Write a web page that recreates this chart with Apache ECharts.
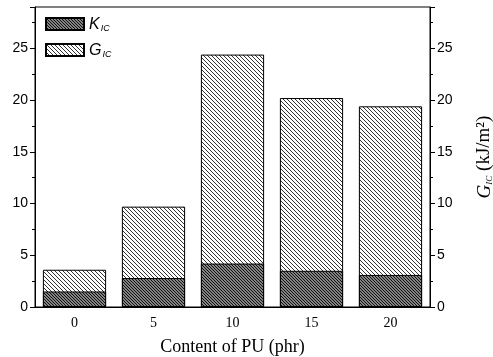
<!DOCTYPE html>
<html>
<head>
<meta charset="utf-8">
<script src="https://cdn.jsdelivr.net/npm/echarts@6/dist/echarts.min.js"></script>
<style>
  html, body { margin: 0; padding: 0; background: #fff; }
  #chart { width: 493px; height: 357px; }
</style>
</head>
<body>
<div id="chart"></div>
<script>
// PU content (phr) on the x axis
const categories = ['0', '5', '10', '15', '20'];
// Fracture toughness K_IC and fracture energy G_IC (kJ/m^2)
const kicValues = [1.5, 2.8, 4.2, 3.5, 3.1];
const gicValues = [3.6, 9.7, 24.4, 20.2, 19.4];
const yTicks = [0, 5, 10, 15, 20, 25];

// Diagonal hatch tiles ("\" direction)
function hatch(size, width, color) {
  const c = document.createElement('canvas');
  c.width = size; c.height = size;
  const g = c.getContext('2d');
  g.fillStyle = '#fff';
  g.fillRect(0, 0, size, size);
  g.strokeStyle = color;
  g.lineWidth = width;
  for (let k = -1; k <= 1; k++) {
    g.beginPath();
    g.moveTo(k * size - 1, -1);
    g.lineTo(k * size + size + 1, size + 1);
    g.stroke();
  }
  return { image: c, repeat: 'repeat' };
}
const kPattern = hatch(3, 1.5, '#111');
const gPattern = hatch(4, 1.0, '#333');

const chart = echarts.init(document.getElementById('chart'));
const sansAxis = { fontFamily: 'Liberation Sans', fontSize: 14, color: '#000' };

chart.setOption({
  animation: false,
  backgroundColor: '#fff',
  grid: {
    left: 35, right: 63, top: 7, bottom: 50,
    outerBoundsMode: 'none',
    containLabel: false,
    show: true, borderColor: '#000', borderWidth: 1
  },
  legend: {
    orient: 'vertical',
    left: 45, top: 16, padding: 0,
    itemWidth: 38, itemHeight: 12, itemGap: 9,
    icon: 'rect',
    data: ['KIC', 'GIC'],
    formatter: function (name) {
      return '{m|' + name.charAt(0) + '}{s|' + name.slice(1) + '}';
    },
    textStyle: {
      rich: {
        m: { fontFamily: 'Liberation Sans', fontStyle: 'italic', fontSize: 16, color: '#000', lineHeight: 18, verticalAlign: 'bottom' },
        s: { fontFamily: 'Liberation Sans', fontStyle: 'italic', fontSize: 9, color: '#000', padding: [8, 0, 0, 1], lineHeight: 18, verticalAlign: 'bottom' }
      }
    }
  },
  xAxis: {
    type: 'category',
    data: categories,
    axisLine: { lineStyle: { color: '#000', width: 1 } },
    axisTick: { show: false },
    axisLabel: { fontFamily: 'Liberation Serif', fontSize: 14, color: '#000', margin: 9 },
    name: 'Content of PU (phr)',
    nameLocation: 'middle',
    nameGap: 31,
    nameTextStyle: { fontFamily: 'Liberation Serif', fontSize: 18, color: '#000' }
  },
  yAxis: [
    {
      type: 'value', min: 0, max: 29, interval: 5,
      axisLine: { show: true, lineStyle: { color: '#000' } },
      axisTick: { show: true, inside: false, length: 5, lineStyle: { color: '#000' } },
      minorTick: { show: true, splitNumber: 2, length: 3, lineStyle: { color: '#000' } },
      splitLine: { show: false },
      axisLabel: Object.assign({ margin: 7, formatter: v => (yTicks.includes(v) ? String(v) : '') }, sansAxis)
    },
    {
      type: 'value', min: 0, max: 29, interval: 5, position: 'right',
      axisLine: { show: true, lineStyle: { color: '#000' } },
      axisTick: { show: true, inside: false, length: 5, lineStyle: { color: '#000' } },
      minorTick: { show: true, splitNumber: 2, length: 3, lineStyle: { color: '#000' } },
      splitLine: { show: false },
      axisLabel: Object.assign({ margin: 7, formatter: v => (yTicks.includes(v) ? String(v) : '') }, sansAxis),
      name: '{g|G}{s|IC}{t| (kJ/m²)}',
      nameLocation: 'middle',
      nameRotate: 90,
      nameGap: 42,
      nameTextStyle: {
        rich: {
          g: { fontFamily: 'Liberation Serif', fontStyle: 'italic', fontSize: 19, color: '#000', lineHeight: 22, verticalAlign: 'bottom' },
          s: { fontFamily: 'Liberation Serif', fontStyle: 'italic', fontSize: 9, color: '#000', lineHeight: 22, verticalAlign: 'bottom', padding: [9, 0, 0, 0] },
          t: { fontFamily: 'Liberation Serif', fontSize: 19, color: '#000', lineHeight: 22, verticalAlign: 'bottom' }
        }
      }
    }
  ],
  series: [
    {
      name: 'GIC', type: 'bar', data: gicValues,
      barWidth: '80%', barGap: '-100%',
      itemStyle: { color: gPattern, borderColor: '#000', borderWidth: 1 }
    },
    {
      name: 'KIC', type: 'bar', data: kicValues,
      barWidth: '80%', barGap: '-100%',
      itemStyle: { color: kPattern, borderColor: '#000', borderWidth: 1 }
    }
  ]
});
</script>
</body>
</html>
